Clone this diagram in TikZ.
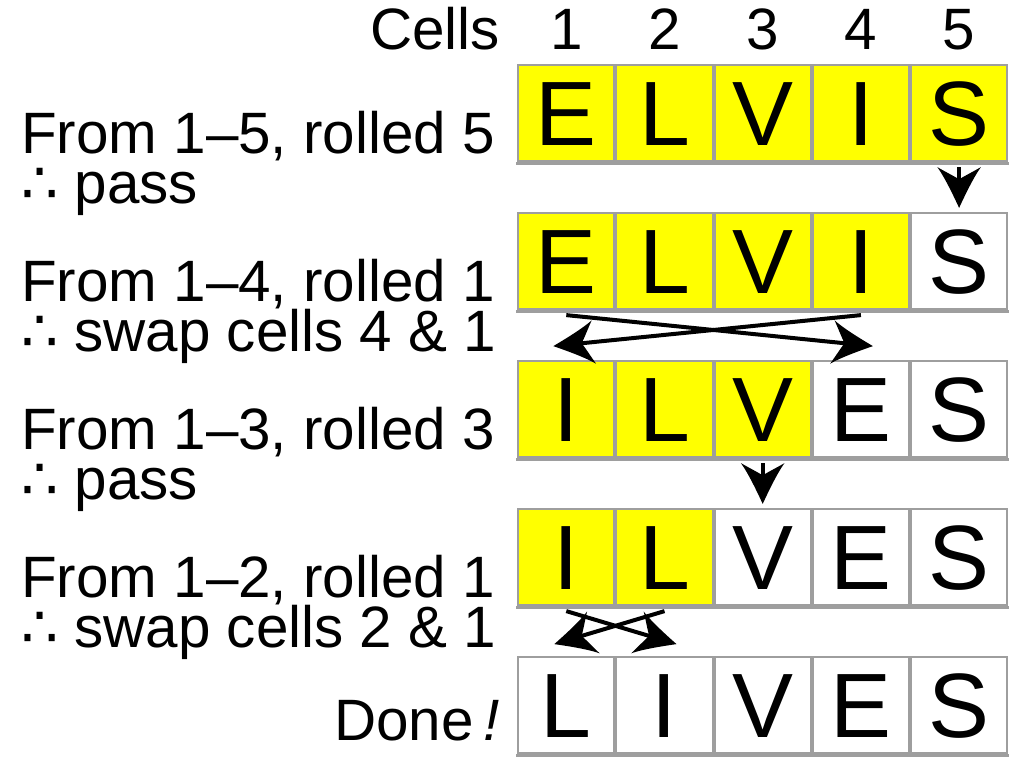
\documentclass[tikz,border=0pt]{standalone}
\usepackage{fontspec}
\setmainfont{Liberation Sans}
\newfontfamily\symfont{DejaVu Sans}
\usetikzlibrary{arrows.meta,calc}
\definecolor{cellyellow}{RGB}{255,255,0}
\definecolor{cellgray}{RGB}{158,158,158}
% curved-sided arrow head
\pgfdeclarearrow{
	name = Swoosh,
	parameters = {\the\pgfarrowlength,\the\pgfarrowwidth},
	setup code = {
		\pgfarrowssettipend{0pt}
		\pgfarrowssetlineend{-0.65\pgfarrowlength}
		\pgfarrowssetvisualbackend{-\pgfarrowlength}
		\pgfarrowssetbackend{-\pgfarrowlength}
		\pgfarrowshullpoint{0pt}{0pt}
		\pgfarrowsupperhullpoint{-\pgfarrowlength}{0.5\pgfarrowwidth}
		\pgfarrowssavethe\pgfarrowlength
		\pgfarrowssavethe\pgfarrowwidth
	},
	drawing code = {
		\pgfpathmoveto{\pgfqpoint{0pt}{0pt}}
		\pgfpathcurveto{\pgfqpoint{-0.3\pgfarrowlength}{0.13\pgfarrowwidth}}{\pgfqpoint{-0.75\pgfarrowlength}{0.33\pgfarrowwidth}}{\pgfqpoint{-\pgfarrowlength}{0.5\pgfarrowwidth}}
		\pgfpathcurveto{\pgfqpoint{-0.9\pgfarrowlength}{0.34\pgfarrowwidth}}{\pgfqpoint{-0.78\pgfarrowlength}{0.12\pgfarrowwidth}}{\pgfqpoint{-0.7\pgfarrowlength}{0pt}}
		\pgfpathcurveto{\pgfqpoint{-0.78\pgfarrowlength}{-0.12\pgfarrowwidth}}{\pgfqpoint{-0.9\pgfarrowlength}{-0.34\pgfarrowwidth}}{\pgfqpoint{-\pgfarrowlength}{-0.5\pgfarrowwidth}}
		\pgfpathcurveto{\pgfqpoint{-0.75\pgfarrowlength}{-0.33\pgfarrowwidth}}{\pgfqpoint{-0.3\pgfarrowlength}{-0.13\pgfarrowwidth}}{\pgfqpoint{0pt}{0pt}}
		\pgfpathclose
		\pgfusepathqfill
	},
	defaults = {length = 29pt, width = 31pt}
}
\tikzset{
	cell/.style={draw=cellgray, line width=0.05cm, inner sep=0pt, minimum size=2.405cm,
		text height=1.64cm, text depth=0pt, font=\fontsize{65pt}{70pt}\selectfont},
	hot/.style={cell, fill=cellyellow},
	cold/.style={cell, fill=white},
	steptext/.style={inner sep=0pt, font=\fontsize{41.5pt}{48pt}\selectfont},
	fromtext/.style={steptext, text depth=0pt},
	swaparrow/.style={line width=0.1cm, -{Swoosh[length=29pt, width=31pt]}}
}

\begin{document}
\begin{tikzpicture}[x=0.025cm, y=-0.025cm]
\useasboundingbox (0,0) rectangle (1024,768);

% header
\node[steptext, anchor=base east] (cells) at (500,50) {Cells};
\foreach \c in {1,...,5}
	\node[steptext, anchor=base] (num\c) at ({566.3+98.2*(\c-1)},50) {\c};

% the five rows of cells, first \hot of them still to shuffle
\foreach \row/\hot [count=\r] in {{E,L,V,I,S}/5, {E,L,V,I,S}/4, {I,L,V,E,S}/3, {I,L,V,E,S}/2, {L,I,V,E,S}/0}
	\foreach \ch [count=\c] in \row {
		\ifnum\c>\hot \def\kind{cold}\else\def\kind{hot}\fi
		\node[\kind] (r\r c\c) at ({566.3+98.2*(\c-1)},{113+148*(\r-1)}) {\ch};
		\fill[cellgray] ($(r\r c\c.south west)+(-1,0)$) rectangle ($(r\r c\c.south east)+(1,3)$);
	}

% step texts
\node[fromtext, anchor=base west] (from1) at (21,153) {From 1–5, rolled 5};
\node[steptext, anchor=base west] (then1) at (21,203) {{\symfont ∴} pass};
\node[fromtext, anchor=base west] (from2) at (21,301) {From 1–4, rolled 1};
\node[steptext, anchor=base west] (then2) at (21,351) {{\symfont ∴} swap cells 4 \& 1};
\node[fromtext, anchor=base west] (from3) at (21,449) {From 1–3, rolled 3};
\node[steptext, anchor=base west] (then3) at (21,499) {{\symfont ∴} pass};
\node[fromtext, anchor=base west] (from4) at (21,597) {From 1–2, rolled 1};
\node[steptext, anchor=base west] (then4) at (21,647) {{\symfont ∴} swap cells 2 \& 1};
\node[steptext, anchor=base east] (done) at (500,740) {Done\,\textit{!}};

% moves
\draw[swaparrow, shorten >=0.1cm] ($(r1c5.south)+(0,5)$) -- (r2c5.north);
\draw[swaparrow] ($(r2c1.south)+(0,5)$) -- ($(r2c4.south)+(12,36)$);
\draw[swaparrow] ($(r2c4.south)+(0,5)$) -- ($(r2c1.south)+(-13,36)$);
\draw[swaparrow, shorten >=0.1cm] ($(r3c3.south)+(0,5)$) -- (r4c3.north);
\draw[swaparrow] ($(r4c1.south)+(0,5)$) -- ($(r4c2.south)+(12,38)$);
\draw[swaparrow] ($(r4c2.south)+(0,5)$) -- ($(r4c1.south)+(-12,38)$);
\end{tikzpicture}
\end{document}
